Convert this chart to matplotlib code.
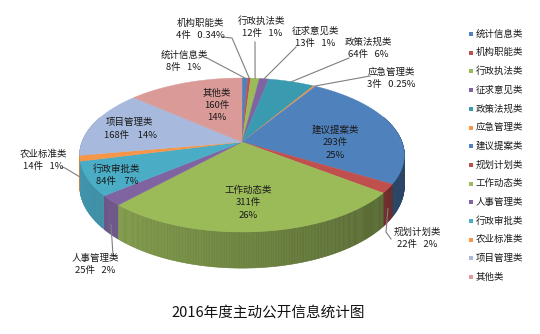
import numpy as np
import matplotlib.pyplot as plt
from matplotlib.patches import Polygon
from matplotlib.colors import to_rgb

plt.rcParams['font.family'] = ['Noto Sans CJK SC', 'DejaVu Sans']

categories = ['统计信息类', '机构职能类', '行政执法类', '征求意见类', '政策法规类', '应急管理类',
              '建议提案类', '规划计划类', '工作动态类', '人事管理类', '行政审批类', '农业标准类',
              '项目管理类', '其他类']
counts = [8, 4, 12, 13, 64, 3, 293, 22, 311, 25, 84, 14, 168, 160]
percents = ['1%', '0.34%', '1%', '1%', '6%', '0.25%', '25%', '2%', '26%', '2%', '7%', '1%', '14%', '14%']
title = '2016年度主动公开信息统计图'

colors = ['#4F81BD', '#C0504D', '#9BBB59', '#8064A2', '#3A9AAF', '#F79646',
          '#4F81BD', '#C0504D', '#9BBB59', '#8064A2', '#4BACC6', '#F79646',
          '#A7B9DD', '#D99A98']

# pie projection (pixel space, tilted disc with a little perspective)
cx, cy = 242, 142
A, B, k, D = 160, 74.8, 0.169, 30


def project(theta, r=1.0, drop=0.0):
    u, v = r * np.sin(theta), r * np.cos(theta)
    w = 1 + k * v
    return cx + A * u / w, cy - B * v / w + drop / w


fig = plt.figure(figsize=(5.4, 3.34), dpi=100)
ax = fig.add_axes([0, 0, 1, 1])
ax.set_xlim(0, 540)
ax.set_ylim(334, 0)
ax.axis('off')

total = float(sum(counts))
edges = np.concatenate([[0], np.cumsum(counts)]) / total * 2 * np.pi

# outer walls, back to front, shaded darker towards the right
chunks = []
for i in range(len(counts)):
    t0, t1 = edges[i], edges[i + 1]
    n = max(2, int(np.degrees(t1 - t0) / 0.5) + 1)
    ts = np.linspace(t0, t1, n)
    for a, b in zip(ts[:-1], ts[1:]):
        m = 0.5 * (a + b)
        if np.cos(m) > 0.35:
            continue
        chunks.append((np.cos(m), a, b, i))
chunks.sort(key=lambda c: -c[0])
for v, a, b, i in chunks:
    m = 0.5 * (a + b)
    f = 0.70 - 0.17 * np.sin(m)
    c = np.clip(np.array(to_rgb(colors[i])) * f, 0, 1)
    xa, ya = project(a)
    xb, yb = project(b)
    xa2, ya2 = project(a, drop=D)
    xb2, yb2 = project(b, drop=D)
    ax.add_patch(Polygon([(xa, ya), (xb, yb), (xb2, yb2), (xa2, ya2)],
                         closed=True, facecolor=c, edgecolor=c, lw=0.4))

# top faces
for i in range(len(counts)):
    ts = np.linspace(edges[i], edges[i + 1], max(2, int(np.degrees(edges[i + 1] - edges[i])) + 2))
    xs, ys = project(ts)
    pts = [(cx, cy)] + list(zip(xs, ys))
    ax.add_patch(Polygon(pts, closed=True, facecolor=colors[i], edgecolor=colors[i], lw=0.3))

fs = 6.8
txt = '#1a1a1a'
lead = '#7f7f7f'

# labels inside the larger slices
inside = {
    '其他类': ((217, 93), 'stack'),
    '项目管理类': ((130, 123), 'pair'),
    '建议提案类': ((335, 130), 'stack'),
    '工作动态类': ((248, 190), 'stack'),
    '行政审批类': ((117, 169), 'pair'),
}
# labels outside with leader lines: text anchor, line start, elbow
outside = {
    '统计信息类': ((184, 55), [(207, 58)], 0.0),
    '机构职能类': ((200, 23), [(222, 37), (232, 38)], 0.0),
    '行政执法类': ((262, 21), [(255, 42)], 0.0),
    '征求意见类': ((315, 31), [(296, 47)], 0.0),
    '政策法规类': ((368, 42), [(349, 58)], 0.0),
    '应急管理类': ((391, 72), [(370, 76)], 0.0),
    '规划计划类': ((417, 232), [(391, 239), (386, 232)], 0.6),
    '人事管理类': ((95, 258), [(117, 257), (113, 255)], 0.7),
    '农业标准类': ((43, 154), [(62, 167), (65, 168)], 0.6),
}

for i, name in enumerate(categories):
    val = '%d件' % counts[i]
    if name in inside:
        (x, y), mode = inside[name]
        if mode == 'stack':
            lines = [name, val, percents[i]]
        else:
            lines = [name, val + '    ' + percents[i]]
        for j, s in enumerate(lines):
            ax.text(x, y + j * 12.5, s, fontsize=fs, color=txt, ha='center', va='center')
    else:
        (x, y), path, drop = outside[name]
        ax.text(x, y, name, fontsize=fs, color=txt, ha='center', va='center')
        ax.text(x, y + 12.5, val + '   ' + percents[i], fontsize=fs, color=txt,
                ha='center', va='center')
        mid = 0.5 * (edges[i] + edges[i + 1])
        ex, ey = project(mid, drop=D * drop)
        px = [p[0] for p in path] + [ex]
        py = [p[1] for p in path] + [ey]
        ax.plot(px, py, color=lead, lw=0.8)

# legend
for i, name in enumerate(categories):
    y = 34 + i * 18.7
    ax.scatter([471], [y], marker='s', s=9, color=colors[i], linewidths=0)
    ax.text(476, y, name, fontsize=fs, color=txt, ha='left', va='center')

ax.text(268, 313, title, fontsize=10.5, color='#111111', ha='center', va='center')

fig.savefig('out.png', dpi=100)
